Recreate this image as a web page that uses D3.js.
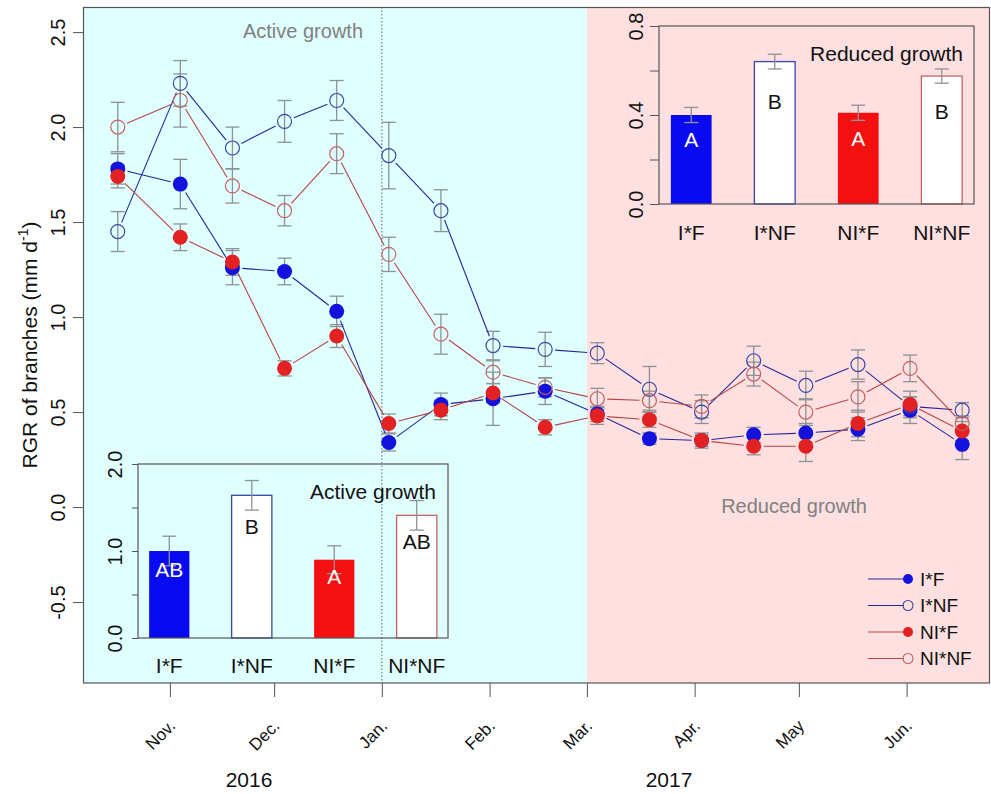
<!DOCTYPE html>
<html>
<head>
<meta charset="utf-8">
<script src="https://cdnjs.cloudflare.com/ajax/libs/d3/7.8.5/d3.min.js"></script>
<style>
body { margin: 0; background: #fff; }
svg text { font-family: "Liberation Sans", Arial, sans-serif; }
</style>
</head>
<body>
<div id="chart"></div>
<script>
// sampling dates
const dates = ["2016-10-17", "2016-11-04", "2016-11-19", "2016-12-04", "2016-12-19",
  "2017-01-03", "2017-01-18", "2017-02-02", "2017-02-17", "2017-03-04", "2017-03-19",
  "2017-04-03", "2017-04-18", "2017-05-03", "2017-05-18", "2017-06-02", "2017-06-17"];

// RGR means and standard errors
const IF     = [1.78, 1.70, 1.26, 1.24, 1.03, 0.34, 0.54, 0.57, 0.61, 0.49, 0.36, 0.35, 0.38, 0.39, 0.41, 0.51, 0.33];
const IF_se  = [0.08, 0.13, 0.09, 0.07, 0.08, 0.045, 0.06, 0.14, 0.07, 0.04, 0.03, 0.03, 0.04, 0.05, 0.06, 0.07, 0.08];
const INF    = [1.45, 2.23, 1.89, 2.03, 2.14, 1.85, 1.56, 0.85, 0.83, 0.81, 0.62, 0.50, 0.77, 0.64, 0.75, 0.53, 0.51];
const INF_se = [0.105, 0.12, 0.11, 0.11, 0.105, 0.175, 0.11, 0.075, 0.09, 0.055, 0.12, 0.06, 0.077, 0.075, 0.077, 0.05, 0.04];
const NIF    = [1.74, 1.42, 1.29, 0.73, 0.90, 0.44, 0.51, 0.60, 0.42, 0.48, 0.46, 0.35, 0.32, 0.32, 0.44, 0.54, 0.40];
const NIF_se = [0.06, 0.07, 0.07, 0.04, 0.06, 0.05, 0.05, 0.05, 0.04, 0.045, 0.04, 0.04, 0.045, 0.08, 0.07, 0.07, 0.05];
const NINF   = [2.00, 2.14, 1.69, 1.56, 1.86, 1.33, 0.91, 0.71, 0.63, 0.57, 0.56, 0.53, 0.70, 0.50, 0.58, 0.73, 0.44];
const NINF_se= [0.13, 0.14, 0.09, 0.08, 0.105, 0.09, 0.105, 0.06, 0.05, 0.055, 0.05, 0.06, 0.063, 0.07, 0.08, 0.07, 0.04];

// axis ticks
const yTicks = [-0.5, 0, 0.5, 1.0, 1.5, 2.0, 2.5];
const monthDates = ["2016-11-01", "2016-12-01", "2017-01-01", "2017-02-01", "2017-03-01",
  "2017-04-01", "2017-05-01", "2017-06-01"];
const monthLabels = ["Nov.", "Dec.", "Jan.", "Feb.", "Mar.", "Apr.", "May", "Jun."];
const yearBreak = "2017-01-01";
const seasonBreak = "2017-03-01";

// inset bar charts
const groups = ["I*F", "I*NF", "NI*F", "NI*NF"];
const active = [1.00, 1.64, 0.90, 1.41];
const activeSe = [0.17, 0.17, 0.16, 0.17];
const activeLetters = ["AB", "B", "A", "AB"];
const reduced = [0.40, 0.64, 0.41, 0.575];
const reducedSe = [0.034, 0.033, 0.034, 0.032];
const reducedLetters = ["A", "B", "A", "B"];

const parse = d3.timeParse("%Y-%m-%d");
const frameCol = "#555";
const barCol = "#8c9296";

const svg = d3.select("#chart").append("svg")
    .attr("width", 991)
    .attr("height", 794);

const x = d3.scaleTime()
    .domain([parse("2016-10-07"), parse("2017-06-25")])
    .range([83, 990]);
const y = d3.scaleLinear()
    .domain([-0.926, 2.632])
    .range([683, 7]);

// background periods
svg.append("rect")
    .attr("x", x.range()[0]).attr("y", y.range()[1])
    .attr("width", x(parse(seasonBreak)) - x.range()[0])
    .attr("height", y.range()[0] - y.range()[1])
    .attr("fill", "#e0ffff");
svg.append("rect")
    .attr("x", x(parse(seasonBreak))).attr("y", y.range()[1])
    .attr("width", x.range()[1] - x(parse(seasonBreak)))
    .attr("height", y.range()[0] - y.range()[1])
    .attr("fill", "#ffe0e0");

// year separator
svg.append("line")
    .attr("x1", x(parse(yearBreak))).attr("x2", x(parse(yearBreak)))
    .attr("y1", y.range()[1]).attr("y2", y.range()[0])
    .attr("stroke", "#666").attr("stroke-width", 1)
    .attr("stroke-dasharray", "1.5,2");

// period labels
svg.append("text").attr("x", 303).attr("y", 38)
    .attr("text-anchor", "middle").attr("font-size", 20).attr("fill", "#808080")
    .text("Active growth");
svg.append("text").attr("x", 794).attr("y", 513)
    .attr("text-anchor", "middle").attr("font-size", 20).attr("fill", "#808080")
    .text("Reduced growth");

// frame
svg.append("rect")
    .attr("x", 83.5).attr("y", 7.5).attr("width", 906).attr("height", 675.5)
    .attr("fill", "none").attr("stroke", frameCol).attr("stroke-width", 1.2);

// y axis
const yAxis = svg.append("g")
    .attr("transform", "translate(83,0)")
    .call(d3.axisLeft(y).tickValues(yTicks).tickSize(10)
        .tickFormat(d => d3.format(".1f")(d).replace("−", "-")));
yAxis.select(".domain").remove();
yAxis.selectAll("line").attr("stroke", frameCol);
yAxis.selectAll("text")
    .attr("x", 0).attr("y", -18).attr("dy", 0)
    .attr("transform", "rotate(-90)")
    .attr("text-anchor", "middle")
    .attr("font-size", 20).attr("fill", "#111");

// x axis
const xAxis = svg.append("g")
    .attr("transform", "translate(0,683)")
    .call(d3.axisBottom(x).tickValues(monthDates.map(parse)).tickSize(14)
        .tickFormat((d, i) => monthLabels[i]));
xAxis.select(".domain").remove();
xAxis.selectAll("line").attr("stroke", frameCol);
xAxis.selectAll("text")
    .attr("x", 0).attr("y", 0).attr("dy", 0)
    .attr("transform", "translate(6,44) rotate(-45)")
    .attr("text-anchor", "end")
    .attr("font-size", 17).attr("fill", "#111");

svg.append("text").attr("x", 249).attr("y", 787)
    .attr("text-anchor", "middle").attr("font-size", 21).attr("fill", "#111").text("2016");
svg.append("text").attr("x", 669).attr("y", 787)
    .attr("text-anchor", "middle").attr("font-size", 21).attr("fill", "#111").text("2017");

// y title
const yTitle = svg.append("text")
    .attr("transform", "translate(37,345) rotate(-90)")
    .attr("text-anchor", "middle").attr("font-size", 21).attr("fill", "#111");
yTitle.append("tspan").text("RGR of branches (mm d");
yTitle.append("tspan").attr("font-size", 14).attr("dy", -9).text("-1");
yTitle.append("tspan").attr("dy", 9).text(")");

// series
const series = [
    {name: "I*F", values: IF, se: IF_se, line: "#26269a", col: "#1212dc", filled: true},
    {name: "I*NF", values: INF, se: INF_se, line: "#26269a", col: "#3a46a8", filled: false},
    {name: "NI*F", values: NIF, se: NIF_se, line: "#b54545", col: "#e22222", filled: true},
    {name: "NI*NF", values: NINF, se: NINF_se, line: "#b54545", col: "#c46262", filled: false}
];
const pts = s => s.values.map((v, i) => ({d: parse(dates[i]), v: v, se: s.se[i]}));

// error bars
series.forEach(s => {
    const g = svg.append("g").attr("stroke", barCol).attr("stroke-width", 1.3);
    pts(s).forEach(p => {
        const cx = x(p.d);
        g.append("line").attr("x1", cx).attr("x2", cx)
            .attr("y1", y(p.v - p.se)).attr("y2", y(p.v + p.se));
        [p.v - p.se, p.v + p.se].forEach(e => {
            g.append("line").attr("x1", cx - 7).attr("x2", cx + 7)
                .attr("y1", y(e)).attr("y2", y(e));
        });
    });
});

// connecting segments with gaps (type = "b")
const gap = 10;
series.forEach(s => {
    const p = pts(s);
    for (let i = 0; i < p.length - 1; i++) {
        const x0 = x(p[i].d), y0 = y(p[i].v), x1 = x(p[i + 1].d), y1 = y(p[i + 1].v);
        const len = Math.hypot(x1 - x0, y1 - y0);
        if (len <= 2 * gap) continue;
        const ux = (x1 - x0) / len, uy = (y1 - y0) / len;
        svg.append("line")
            .attr("x1", x0 + ux * gap).attr("y1", y0 + uy * gap)
            .attr("x2", x1 - ux * gap).attr("y2", y1 - uy * gap)
            .attr("stroke", s.line).attr("stroke-width", 1.1);
    }
});

// points
series.forEach(s => {
    svg.append("g").selectAll("circle")
        .data(pts(s))
        .join("circle")
        .attr("cx", d => x(d.d))
        .attr("cy", d => y(d.v))
        .attr("r", s.filled ? 7.5 : 7)
        .attr("fill", s.filled ? s.col : "none")
        .attr("stroke", s.col)
        .attr("stroke-width", s.filled ? 0 : 1.2);
});

// legend
const legend = svg.append("g");
series.forEach((s, i) => {
    const ly = 579 + i * 26.5;
    legend.append("line").attr("x1", 868).attr("x2", 904).attr("y1", ly).attr("y2", ly)
        .attr("stroke", s.line).attr("stroke-width", 1.1);
    legend.append("circle").attr("cx", 908).attr("cy", ly).attr("r", 5)
        .attr("fill", s.filled ? s.col : "none")
        .attr("stroke", s.col).attr("stroke-width", s.filled ? 0 : 1.1);
    legend.append("text").attr("x", 920).attr("y", ly).attr("dy", "0.36em")
        .attr("font-size", 19).attr("fill", "#111").text(s.name);
});

// inset bar charts
function inset(o) {
    const bx = d3.scaleBand().domain(groups).range([o.left, o.right])
        .paddingInner(0.5).paddingOuter(o.po);
    const by = d3.scaleLinear().domain([0, o.max]).range([o.bottom, o.top]);
    const g = svg.append("g");

    g.selectAll("rect.bar")
        .data(groups)
        .join("rect")
        .attr("class", "bar")
        .attr("x", d => bx(d) + 0.5)
        .attr("width", bx.bandwidth() - 1)
        .attr("y", (d, i) => by(o.values[i]))
        .attr("height", (d, i) => by(0) - by(o.values[i]))
        .attr("fill", (d, i) => series[i].filled ? series[i].col.replace("#1212dc", "#0a0af0").replace("#e22222", "#f41010") : "#fff")
        .attr("stroke", (d, i) => series[i].filled ? "none" : series[i].col)
        .attr("stroke-width", 1.3);

    const eb = g.append("g").attr("stroke", barCol).attr("stroke-width", 1.3);
    groups.forEach((d, i) => {
        const cx = bx(d) + bx.bandwidth() / 2;
        const lo = o.values[i] - o.se[i], hi = o.values[i] + o.se[i];
        eb.append("line").attr("x1", cx).attr("x2", cx).attr("y1", by(lo)).attr("y2", by(hi));
        [lo, hi].forEach(e => eb.append("line")
            .attr("x1", cx - 7).attr("x2", cx + 7).attr("y1", by(e)).attr("y2", by(e)));
    });

    g.selectAll("text.letter")
        .data(groups)
        .join("text")
        .attr("class", "letter")
        .attr("x", d => bx(d) + bx.bandwidth() / 2)
        .attr("y", (d, i) => by(o.values[i] * o.frac))
        .attr("dy", "0.36em")
        .attr("text-anchor", "middle")
        .attr("font-size", 21)
        .attr("fill", (d, i) => series[i].filled ? "#fff" : "#111")
        .text((d, i) => o.letters[i]);

    g.selectAll("text.cat")
        .data(groups)
        .join("text")
        .attr("class", "cat")
        .attr("x", d => bx(d) + bx.bandwidth() / 2)
        .attr("y", o.catY)
        .attr("text-anchor", "middle")
        .attr("font-size", 21)
        .attr("fill", "#111")
        .text(d => d);

    const ax = g.append("g")
        .attr("transform", `translate(${o.left},0)`)
        .call(d3.axisLeft(by).tickValues(o.ticks).tickSize(o.tick)
            .tickFormat(d => o.labels.includes(d) ? d3.format(".1f")(d) : ""));
    ax.select(".domain").remove();
    ax.selectAll("line").attr("stroke", frameCol);
    ax.selectAll("text")
        .attr("x", 0).attr("y", -16).attr("dy", 0)
        .attr("transform", "rotate(-90)")
        .attr("text-anchor", "middle")
        .attr("font-size", 20).attr("fill", "#111");

    g.append("rect")
        .attr("x", o.left).attr("y", o.top)
        .attr("width", o.right - o.left).attr("height", o.bottom - o.top)
        .attr("fill", "none").attr("stroke", frameCol).attr("stroke-width", 1.2);

    g.append("text").attr("x", o.titleX).attr("y", o.titleY)
        .attr("text-anchor", "end").attr("font-size", 21).attr("fill", "#111")
        .text(o.title);
}

inset({
    left: 659, right: 974, top: 26, bottom: 204, po: 0.136, max: 0.8,
    values: reduced, se: reducedSe, letters: reducedLetters, frac: 0.72,
    ticks: [0, 0.2, 0.4, 0.6, 0.8], labels: [0, 0.4, 0.8], tick: 9,
    catY: 240, title: "Reduced growth", titleX: 963, titleY: 61
});

inset({
    left: 138, right: 448, top: 464, bottom: 638, po: 0.129, max: 2.0,
    values: active, se: activeSe, letters: activeLetters, frac: 0.785,
    ticks: [0, 0.5, 1.0, 1.5, 2.0], labels: [0, 1.0, 2.0], tick: 6,
    catY: 673, title: "Active growth", titleX: 436, titleY: 499
});
</script>
</body>
</html>
